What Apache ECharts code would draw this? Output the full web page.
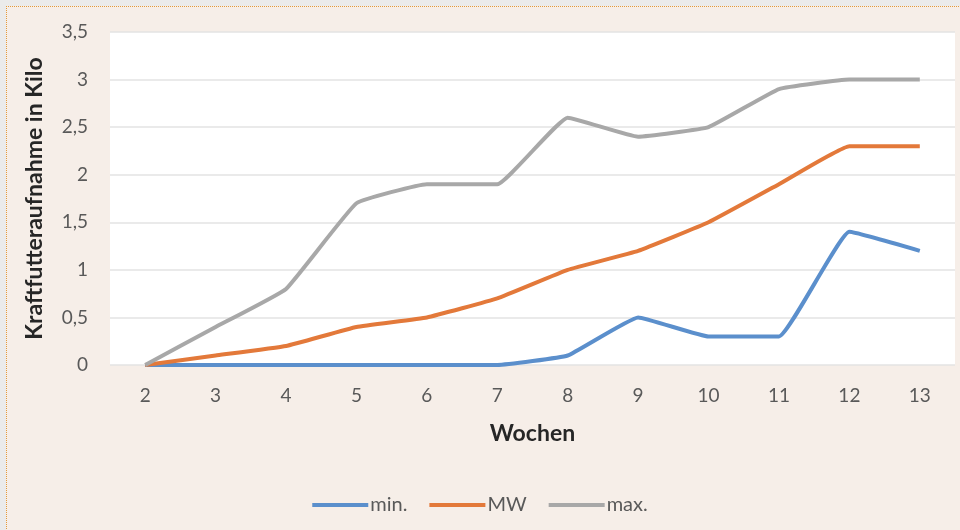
<!DOCTYPE html>
<html>
<head>
<meta charset="utf-8">
<script src="https://cdn.jsdelivr.net/npm/echarts@6/dist/echarts.min.js"></script>
<style>
  html, body { margin: 0; padding: 0; background: #ebebeb; }
  #frame {
    position: absolute; left: 6px; top: 6px; width: 960px; height: 530px;
    background: #f6eee8; border-top: 1px dotted #e39a3c; border-left: 1px dotted #e39a3c;
  }
  #chart { position: absolute; left: 0; top: 0; width: 960px; height: 530px; }
</style>
</head>
<body>
<div id="frame"></div>
<div id="chart"></div>
<script>
// Wochen
const weeks = ["2", "3", "4", "5", "6", "7", "8", "9", "10", "11", "12", "13"];
// Kraftfutteraufnahme in Kilo
const minData = [0, 0, 0, 0, 0, 0, 0.1, 0.5, 0.3, 0.3, 1.4, 1.2];
const mwData = [0, 0.1, 0.2, 0.4, 0.5, 0.7, 1.0, 1.2, 1.5, 1.9, 2.3, 2.3];
const maxData = [0, 0.4, 0.8, 1.7, 1.9, 1.9, 2.6, 2.4, 2.5, 2.9, 3.0, 3.0];

const textColor = "#595959";
const font = "Lato, 'Open Sans', sans-serif";

const chart = echarts.init(document.getElementById("chart"));

function lineSeries(name, data, color) {
  return {
    name: name,
    type: "line",
    data: data,
    smooth: 0.1,
    symbol: "none",
    lineStyle: { color: color, width: 4 },
    itemStyle: { color: color },
  };
}

chart.setOption({
  backgroundColor: "transparent",
  textStyle: { fontFamily: font },
  grid: {
    left: 110,
    right: 5,
    top: 32,
    bottom: 165,
    show: true,
    backgroundColor: "#ffffff",
    borderWidth: 0,
  },
  legend: {
    bottom: 10,
    left: "center",
    itemWidth: 56,
    itemHeight: 4,
    itemGap: 22,
    icon: "rect",
    textStyle: { color: textColor, fontSize: 20, fontFamily: font, padding: [0, 0, 0, -3] },
    data: ["min.", "MW", "max."],
  },
  xAxis: {
    type: "category",
    data: weeks,
    boundaryGap: true,
    name: "Wochen",
    nameLocation: "middle",
    nameGap: 57,
    nameTextStyle: { color: "#262626", fontSize: 23, fontWeight: "bold", fontFamily: font },
    axisLine: { show: false },
    axisTick: { show: false },
    axisLabel: { color: textColor, fontSize: 19, margin: 21, fontFamily: font },
  },
  yAxis: {
    type: "value",
    min: 0,
    max: 3.5,
    interval: 0.5,
    name: "Kraftfutteraufnahme in Kilo",
    nameLocation: "middle",
    nameGap: 64,
    nameTextStyle: { color: "#262626", fontSize: 23, fontWeight: "bold", fontFamily: font },
    axisLine: { show: false },
    axisTick: { show: false },
    axisLabel: {
      color: textColor,
      fontSize: 19,
      margin: 22,
      fontFamily: font,
      formatter: (v) => String(v).replace(".", ","),
    },
    splitLine: { lineStyle: { color: "#e3e3e3", width: 1.5 } },
  },
  series: [
    lineSeries("min.", minData, "#5b8fcc"),
    lineSeries("MW", mwData, "#e3793a"),
    lineSeries("max.", maxData, "#a8a8a8"),
  ],
});

window.addEventListener("resize", () => chart.resize());
</script>
</body>
</html>
